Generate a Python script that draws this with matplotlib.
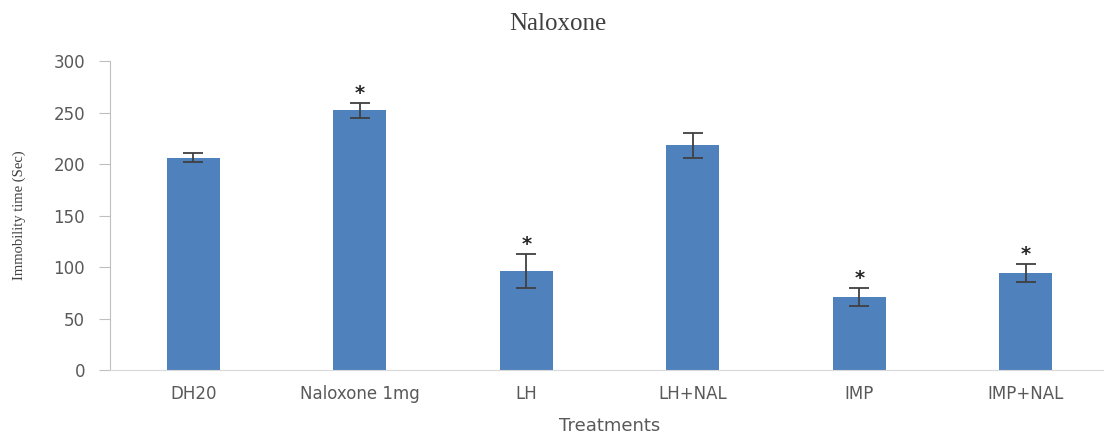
import numpy as np
import matplotlib.pyplot as plt

plt.rcParams['font.family'] = ['DejaVu Sans']

treatments = ['DH20', 'Naloxone 1mg', 'LH', 'LH+NAL', 'IMP', 'IMP+NAL']
immobility = [206, 252, 96, 218, 71, 94]
sem = [4.5, 7, 16.5, 12, 8.5, 9]
significant = [False, True, True, False, True, True]

fig = plt.figure(figsize=(11.04, 4.33), dpi=100)
ax = fig.add_axes([0.0996, 0.1455, 0.905, 0.7135])

x = np.arange(len(treatments))
ax.bar(x, immobility, width=0.32, color='#4F81BD', zorder=2)
ax.errorbar(x, immobility, yerr=sem, fmt='none', ecolor='#404040',
            elinewidth=1.3, capsize=7, capthick=1.3, zorder=3)

# asterisks above the error bars of significant groups
for xi, val, err, sig in zip(x, immobility, sem, significant):
    if sig:
        ax.text(xi, val + err, '*', ha='center', va='bottom',
                fontsize=14, fontweight='bold', color='#262626')

ax.set_xlim(-0.5, len(treatments) - 0.5)
ax.set_ylim(0, 300)
ax.set_yticks(range(0, 301, 50))
ax.set_xticks(x)
ax.set_xticklabels(treatments)

for side in ['top', 'right']:
    ax.spines[side].set_visible(False)
ax.spines['left'].set_color('#bfbfbf')
ax.spines['bottom'].set_color('#d9d9d9')
ax.tick_params(axis='y', colors='#bfbfbf', labelcolor='#595959',
               labelsize=12, length=8, direction='out', pad=10)
ax.tick_params(axis='x', length=0, labelcolor='#595959', labelsize=12, pad=11)

ax.set_xlabel('Treatments', fontsize=13, color='#595959', labelpad=10)
ax.set_ylabel('Immobility time (Sec)', fontsize=10.5, family='Liberation Serif',
              color='#404040', labelpad=20)
fig.suptitle('Naloxone', fontsize=18, family='Liberation Serif', color='#404040',
             x=0.505, y=0.97)

plt.savefig('out.png')
